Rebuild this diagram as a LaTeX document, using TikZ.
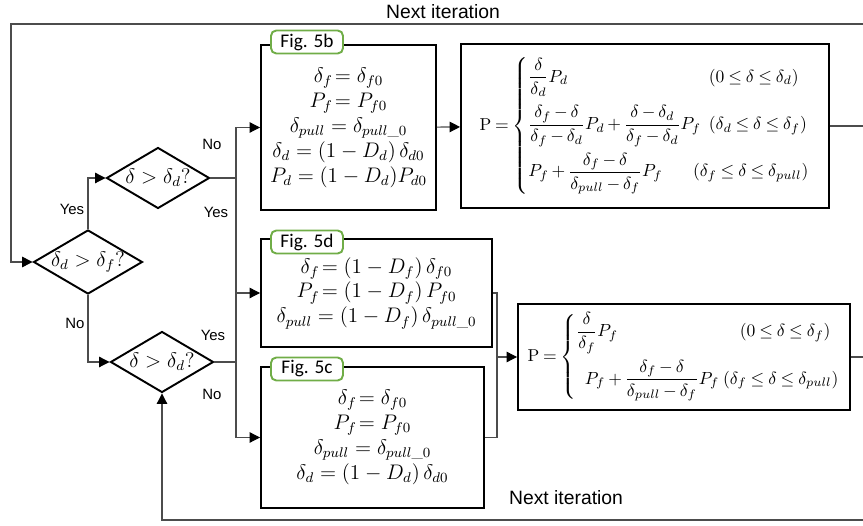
\documentclass[tikz,border=0pt]{standalone}
\usepackage{amsmath}
\usepackage{fontspec}
\setsansfont{Liberation Sans}
\newfontfamily\figfont{Carlito}
\usetikzlibrary{arrows.meta,shapes.geometric}
\definecolor{figgreen}{RGB}{112,173,71}
\newcommand{\tightmath}{\medmuskip=3mu\thickmuskip=4mu}

\begin{document}
\begin{tikzpicture}[x=0.02cm, y=-0.02cm,
  box/.style={draw, line width=1.1pt, align=center, inner sep=2pt,
    font=\fontsize{11.5}{14.2}\selectfont},
  lawbox/.style={draw, line width=1.1pt, inner sep=2pt,
    font=\fontsize{9.8}{11}\selectfont\tightmath},
  test/.style={diamond, draw, line width=1.1pt, aspect=1.7, inner sep=0pt,
    minimum width=2.1cm, minimum height=1.22cm, font=\fontsize{12}{14}\selectfont},
  figtag/.style={draw=figgreen, line width=1.1pt, rounded corners=3pt, fill=white,
    minimum width=1.44cm, minimum height=0.46cm, inner sep=1pt,
    font=\figfont\fontsize{11}{13}\selectfont},
  lbl/.style={font=\sffamily\fontsize{8.5}{10}\selectfont},
  nextlbl/.style={font=\sffamily\fontsize{11}{13}\selectfont},
  link/.style={draw=black!70, line width=0.6pt},
  arr/.style={link, -{Triangle[length=6pt,width=6pt,black]}}]
  \useasboundingbox (0,0) rectangle (863,526);

  % Decisions
  \node[test] (d1) at (88,262) {$\delta_d>\delta_f?$};
  \node[test, minimum width=2.06cm] (d2) at (158,178) {$\delta>\delta_d?$};
  \node[test, minimum width=2.06cm] (d3) at (162,362) {$\delta>\delta_d?$};

  % Parameter boxes
  \node[box, minimum width=3.5cm, minimum height=3.3cm] (b5b) at (348.5,127.5)
    {$\delta_f\!=\delta_{f0}$\\ $P_f\!=P_{f0}$\\ $\delta_{pull}=\delta_{pull\_0}$\\
     $\delta_d=(1-D_d)\,\delta_{d0}$\\ $P_d=(1-D_d)P_{d0}$};
  \node[box, minimum width=4.62cm, minimum height=2.16cm] (b5d) at (376.5,293)
    {$\delta_f\!=(1-D_f)\,\delta_{f0}$\\ $P_f\!=(1-D_f)\,P_{f0}$\\
     $\delta_{pull}=(1-D_f)\,\delta_{pull\_0}$};
  \node[box, minimum width=4.46cm, minimum height=2.82cm] (b5c) at (372.5,437.5)
    {$\delta_f\!=\delta_{f0}$\\ $P_f\!=P_{f0}$\\ $\delta_{pull}=\delta_{pull\_0}$\\
     $\delta_d=(1-D_d)\,\delta_{d0}$};

  % Figure tags
  \node[figtag] (t5b) at (307,42) {Fig. 5b};
  \node[figtag] (t5d) at (307,242) {Fig. 5d};
  \node[figtag] (t5c) at (307,369) {Fig. 5c};

  % Load laws
  \node[lawbox, minimum width=7.36cm, minimum height=3.28cm] (p1) at (645,126)
    {$\mathrm{P}=\left\{\begin{array}{@{}l@{\;\;}l@{}}
      \dfrac{\delta}{\delta_d}P_d & (0\le\delta\le\delta_d)\\[10pt]
      \dfrac{\delta_f-\delta}{\delta_f-\delta_d}P_d+\dfrac{\delta-\delta_d}{\delta_f-\delta_d}P_f
        & (\delta_d\le\delta\le\delta_f)\\[10pt]
      P_f+\dfrac{\delta_f-\delta}{\delta_{pull}-\delta_f}P_f & \hspace{-9pt}(\delta_f\le\delta\le\delta_{pull})
    \end{array}\right.$};
  \node[lawbox, minimum width=6.64cm, minimum height=2.12cm] (p2) at (684,357)
    {$\mathrm{P}=\left\{\begin{array}{@{}l@{\;}r@{}}
      \dfrac{\delta}{\delta_f}P_f & (0\le\delta\le\delta_f)\;\;\\[10pt]
      \enspace P_f+\dfrac{\delta_f-\delta}{\delta_{pull}-\delta_f}P_f & (\delta_f\le\delta\le\delta_{pull})
    \end{array}\right.$};

  % Joints
  \coordinate (topL) at (11,24);
  \coordinate (topR) at (863,24);
  \coordinate (botR) at (863,520);
  \coordinate (p1R) at (863,126);
  \coordinate (p2R) at (863,357);
  \coordinate (s1) at (236,178);
  \coordinate (s2) at (236,362);
  \coordinate (j) at (497,357);

  % Connectors
  \draw[arr] (topR) -- (topL) |- (d1.west);
  \draw[arr] (d1.north) |- (d2.west);
  \draw[arr] (d1.south) |- (d3.west);
  \draw[link] (d2.east) -- (s1);
  \draw[link] (d3.east) -- (s2);
  \draw[link] (s1) -- (s2);
  \draw[arr] (s1) |- (b5b.west);
  \draw[arr] (s2) |- (b5d.west);
  \draw[arr] (s2) |- (b5c.west);
  \draw[arr] (b5b) -- (p1);
  \draw[link] (b5d.east) -| (j);
  \draw[link] (b5c.east) -| (j);
  \draw[arr] (j) -- (p2.west);
  \draw[link] (p1.east) -- (p1R);
  \draw[link] (p2.east) -- (p2R);
  \draw[arr] (botR) -| (d3.south);

  % Branch labels
  \node[lbl] (yes1) at (72,209) {Yes};
  \node[lbl] (no1) at (75,323) {No};
  \node[lbl] (no2) at (212,144) {No};
  \node[lbl] (yes2) at (216,212) {Yes};
  \node[lbl] (yes3) at (213,335) {Yes};
  \node[lbl] (no3) at (212,394) {No};
  \node[nextlbl] (nxt1) at (443,12) {Next iteration};
  \node[nextlbl] (nxt2) at (566,498) {Next iteration};

\end{tikzpicture}
\end{document}
